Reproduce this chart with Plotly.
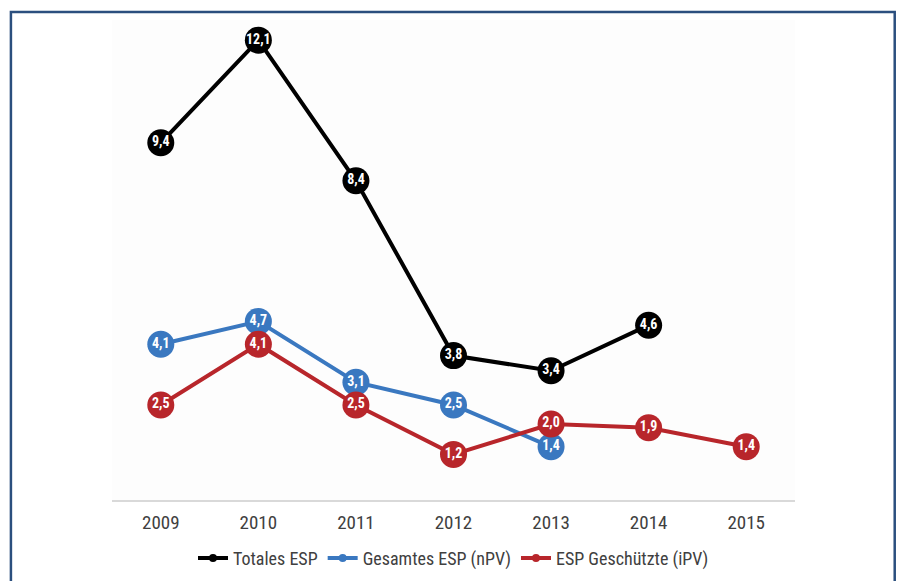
import plotly.graph_objects as go

years = ["2009", "2010", "2011", "2012", "2013", "2014", "2015"]
totales = [9.4, 12.1, 8.4, 3.8, 3.4, 4.6]
gesamtes = [4.1, 4.7, 3.1, 2.5, 1.4]
geschuetzte = [2.5, 4.1, 2.5, 1.2, 2.0, 1.9, 1.4]

names = ["Totales ESP", "Gesamtes ESP (nPV)", "ESP Geschützte (iPV)"]
colors = ["#000000", "#3a78c0", "#b8262b"]
series = [totales, gesamtes, geschuetzte]

FONT = "Liberation Sans Narrow, Roboto Condensed, Arial Narrow, Open Sans, sans-serif"

fig = go.Figure()
for name, vals, col in zip(names, series, colors):
    fig.add_trace(go.Scatter(
        x=years[:len(vals)], y=vals, name=name,
        mode="lines+markers+text",
        line=dict(color=col, width=4),
        marker=dict(color=col, size=27),
        text=[f"{v:.1f}".replace(".", ",") for v in vals],
        textposition="middle center",
        textfont=dict(color="white", size=14, family=FONT, weight="bold"),
        cliponaxis=False,
        showlegend=False,
    ))
# legend entries with small markers
for name, col in zip(names, colors):
    fig.add_trace(go.Scatter(
        x=[None], y=[None], name=name, mode="lines+markers",
        line=dict(color=col, width=4), marker=dict(color=col, size=8),
        showlegend=True,
    ))

fig.update_layout(
    width=898, height=581,
    margin=dict(l=112, r=103, t=20, b=81, autoexpand=False),
    paper_bgcolor="white",
    plot_bgcolor="#fdfdfd",
    font=dict(family=FONT, color="#404040"),
    showlegend=True,
    legend=dict(orientation="h", x=0.5, xanchor="center", y=-0.083, yanchor="top",
                font=dict(size=18, color="#404040", family=FONT),
                itemwidth=30, tracegroupgap=0),
    xaxis=dict(type="category", categoryorder="array", categoryarray=years,
               range=[-0.5, 6.5], showgrid=False, zeroline=False,
               showline=True, linecolor="#d9d9d9", linewidth=1.5,
               ticks="", ticklabelstandoff=4,
               tickfont=dict(size=19, color="#404040", family=FONT)),
    yaxis=dict(range=[0, 12.63], visible=False, showgrid=False, zeroline=False),
    shapes=[dict(type="rect", xref="paper", yref="paper",
                 x0=-0.148, x1=1.146, y0=-0.25, y1=1.0167,
                 line=dict(color="#2b4f7e", width=2.5), fillcolor="rgba(0,0,0,0)",
                 layer="below")],
)

fig.write_html("out.html")
